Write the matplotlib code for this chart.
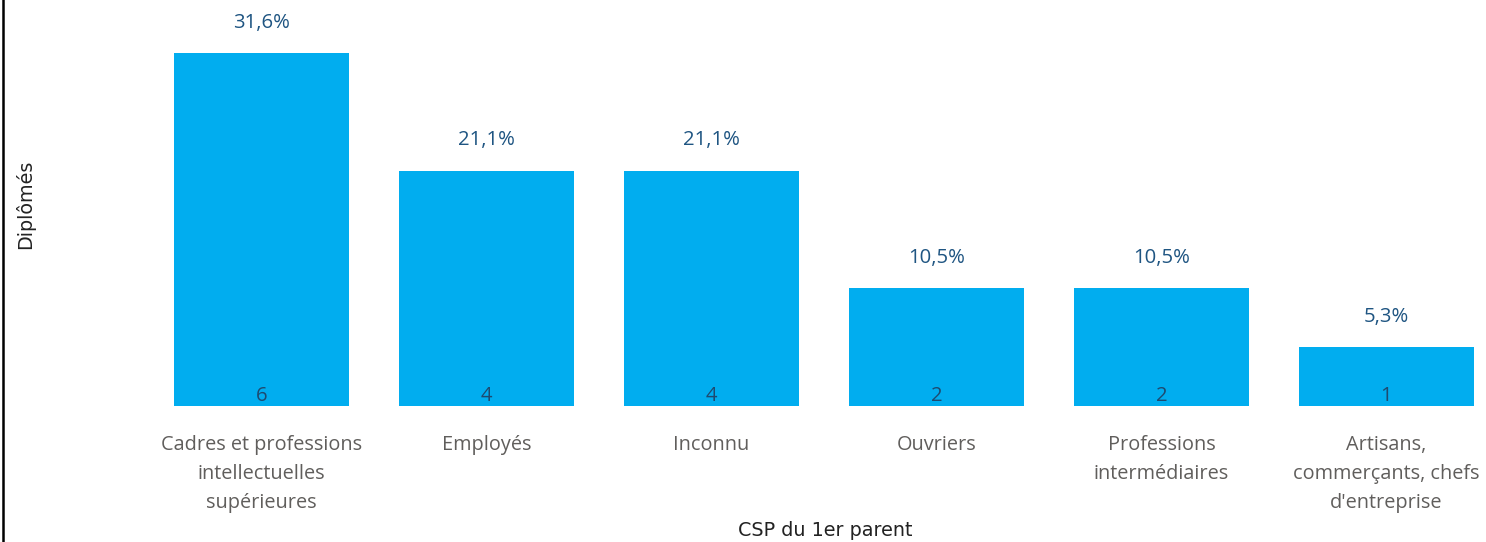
import matplotlib.pyplot as plt
from matplotlib.lines import Line2D

categories = ["Cadres et professions\nintellectuelles\nsupérieures", "Employés", "Inconnu",
              "Ouvriers", "Professions\nintermédiaires",
              "Artisans,\ncommerçants, chefs\nd'entreprise"]
counts = [6, 4, 4, 2, 2, 1]
pct_labels = ["31,6%", "21,1%", "21,1%", "10,5%", "10,5%", "5,3%"]

W, H = 1486, 542
fig = plt.figure(figsize=(W / 100, H / 100), dpi=100)
# axes: x from 149px to right edge, y from 406px (baseline) to top
ax = fig.add_axes([149 / W, (H - 406) / H, (W - 149) / W, 406 / H])

x = range(len(categories))
ax.bar(x, counts, width=175 / 225, color="#01ADEF")
ax.set_xlim(-0.5, -0.5 + (W - 149) / 225)
ax.set_ylim(0, 406 / 58.8)

for i, (c, p) in enumerate(zip(counts, pct_labels)):
    ax.annotate(p, (i, c), xytext=(0, 22), textcoords="offset points",
                ha="center", va="center", fontsize=14.6, color="#1F5582",
                family="Open Sans")
    ax.annotate(str(c), (i, 0), xytext=(0, 7.5), textcoords="offset points",
                ha="center", va="center", fontsize=14.6, color="#1E4A70",
                family="Open Sans")

ax.set_xticks(list(x))
ax.set_xticklabels(categories, fontsize=14.3, color="#605E5C", family="Open Sans",
                   linespacing=1.6)
ax.tick_params(axis="x", length=0, pad=21)
ax.set_yticks([])
for s in ax.spines.values():
    s.set_visible(False)

fig.text(825 / W, 1 - 530 / H, "CSP du 1er parent", ha="center", va="center",
         fontsize=13.8, family="DejaVu Sans", color="#222222")
fig.text(25 / W, 1 - 204 / H, "Diplômés", ha="center", va="center", rotation=90,
         fontsize=13.8, family="DejaVu Sans", color="#222222")

fig.add_artist(Line2D([3 / W, 3 / W], [0, 1], color="black", linewidth=1.8,
                      transform=fig.transFigure))

fig.savefig("out.png", dpi=100)
